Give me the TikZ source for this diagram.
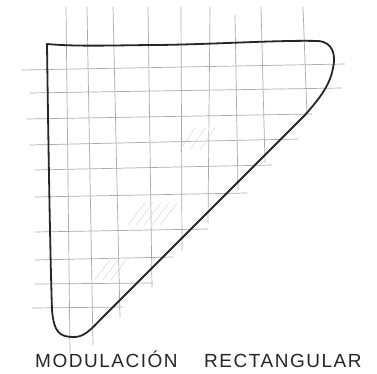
\documentclass[tikz,border=0pt]{standalone}
\usepackage{fontspec}
\setmainfont{Liberation Sans}
\newfontfamily\capfont[LetterSpace=8]{Liberation Sans}
\begin{document}
\begin{tikzpicture}[x=1pt,y=-1pt,
  grid/.style={gray!65, line width=0.7pt},
  hatch/.style={gray!25, line width=0.6pt},
  outline/.style={black!85, line width=1.8pt, line join=round, line cap=round},
  caption/.style={inner sep=0pt, anchor=base west, font=\capfont\fontsize{19}{19}\selectfont, text=black!85}]
\useasboundingbox[fill=white] (0,0) rectangle (377,374);
% vertical grid lines
\draw[grid] (66,7) -- (70,353);
\draw[grid] (87,7) -- (93,345);
\draw[grid] (113,7) -- (120,317);
\draw[grid] (148,7) -- (152,287);
\draw[grid] (181,7) -- (182,250);
\draw[grid] (210,7) -- (208,223);
\draw[grid] (235,15) -- (238,190);
\draw[grid] (261,7) -- (265,163);
\draw[grid] (303,7) -- (307,115);
% horizontal grid lines
\draw[grid] (22,70) -- (345,64);
\draw[grid] (30,93) -- (342,88);
\draw[grid] (27,119) -- (312,114);
\draw[grid] (30,145) -- (298,139);
\draw[grid] (35,170) -- (272,165);
\draw[grid] (35,197) -- (247,193);
\draw[grid] (35,232) -- (208,229);
\draw[grid] (35,260) -- (173,257);
\draw[grid] (35,284) -- (153,283);
\draw[grid] (32,308) -- (123,307);
% faint hatching
\foreach \i in {0,8,16,24,32} {
  \draw[hatch] (128+\i,225) -- (145+\i,203);
}
\foreach \i in {0,8,16} {
  \draw[hatch] (95+\i,280) -- (110+\i,260);
}
\foreach \i in {0,10,20} {
  \draw[hatch] (180+\i,150) -- (195+\i,128);
}
% outline
\draw[outline] (47,44) .. controls (80,47) and (120,45) .. (160,45)
  .. controls (220,44) and (280,40) .. (318,41)
  .. controls (333,42) and (336,55) .. (333,68)
  .. controls (330,85) and (320,98) .. (305,115)
  -- (100,320)
  .. controls (88,333) and (82,337) .. (74,337)
  .. controls (60,337) and (54,333) .. (52,310)
  .. controls (50,250) and (48,120) .. (47,44) -- cycle;
% caption
\node[caption] (t1) at (35,367) {MODULACIÓN};
\node[caption] (t2) at (204,367) {RECTANGULAR};
\end{tikzpicture}
\end{document}
